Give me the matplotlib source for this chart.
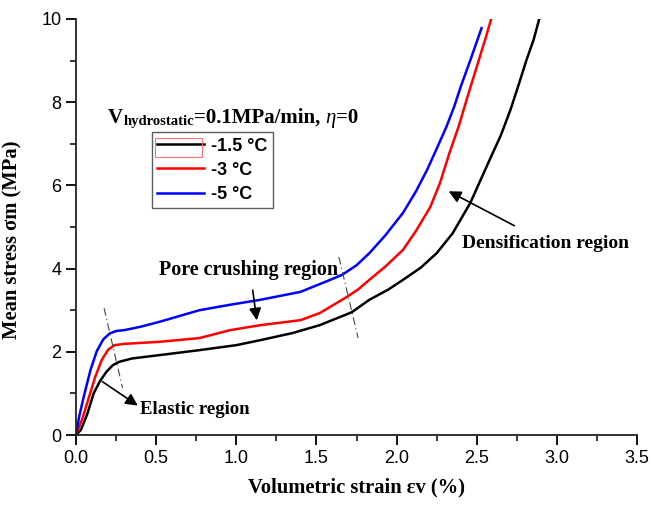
#!/usr/bin/env python3
"""Mean stress vs volumetric strain under hydrostatic loading at three temperatures."""

import matplotlib
matplotlib.use("Agg")
import matplotlib.pyplot as plt
from matplotlib.patches import Rectangle
from matplotlib.ticker import FormatStrFormatter, MultipleLocator

SERIF = "Liberation Serif"
SANS = "Liberation Sans"

LABELS = ["-1.5 °C", "-3 °C", "-5 °C"]
COLORS = ["black", "#ff0000", "#0000ff"]

strain_15 = [0, 0.03, 0.07, 0.11, 0.15, 0.19, 0.23, 0.27, 0.35, 0.52, 0.77, 1.0,
             1.15, 1.35, 1.52, 1.72, 1.83, 1.95, 2.04, 2.15, 2.25, 2.35, 2.46,
             2.58, 2.65, 2.71, 2.76, 2.81, 2.855, 2.89]
stress_15 = [0, 0.12, 0.5, 1.0, 1.3, 1.52, 1.68, 1.76, 1.84, 1.92, 2.04, 2.16,
             2.28, 2.45, 2.64, 2.95, 3.25, 3.5, 3.73, 4.02, 4.37, 4.85, 5.58,
             6.61, 7.2, 7.81, 8.4, 9.01, 9.5, 10.0]

strain_3 = [0, 0.04, 0.08, 0.12, 0.16, 0.20, 0.24, 0.30, 0.52, 0.77, 0.8, 0.96,
            1.15, 1.40, 1.52, 1.69, 1.76, 1.83, 1.93, 2.04, 2.12, 2.21, 2.27,
            2.33, 2.39, 2.44, 2.48, 2.52, 2.56, 2.59]
stress_3 = [0, 0.4, 0.9, 1.4, 1.8, 2.05, 2.16, 2.19, 2.24, 2.33, 2.36, 2.52,
            2.64, 2.76, 2.93, 3.32, 3.5, 3.73, 4.05, 4.45, 4.9, 5.48, 6.05,
            6.78, 7.45, 8.1, 8.6, 9.1, 9.6, 10.0]

strain_5 = [0, 0.02, 0.05, 0.09, 0.13, 0.17, 0.21, 0.25, 0.30, 0.40, 0.52, 0.77,
            0.96, 1.15, 1.40, 1.58, 1.66, 1.75, 1.83, 1.93, 2.04, 2.12, 2.19,
            2.25, 2.31, 2.36, 2.40, 2.46, 2.53]
stress_5 = [0, 0.45, 0.95, 1.56, 2.02, 2.3, 2.44, 2.5, 2.52, 2.6, 2.72, 3.0,
            3.13, 3.25, 3.44, 3.72, 3.85, 4.08, 4.37, 4.8, 5.34, 5.85, 6.37,
            6.88, 7.4, 7.9, 8.37, 9.01, 9.78]

SERIES = [(strain_15, stress_15), (strain_3, stress_3), (strain_5, stress_5)]

# region boundaries (dash-dot lines)
elastic_bound = ([0.175, 0.29], [3.05, 1.13])
pore_bound = ([1.64, 1.76], [4.28, 2.33])


def main() -> None:
    fig = plt.figure(figsize=(6.52, 5.05), dpi=100)
    ax = fig.add_axes([0.1166, 0.1386, 0.8604, 0.8238])

    for (x, y), label, color in zip(SERIES, LABELS, COLORS):
        ax.plot(x, y, color=color, linewidth=1.8, label=label)

    for xs, ys in [elastic_bound, pore_bound]:
        ax.plot(xs, ys, color="#444444", linewidth=0.8, linestyle=(0, (7, 3, 1, 3)))

    ax.set_xlim(0, 3.5)
    ax.set_ylim(0, 10)
    ax.xaxis.set_major_locator(MultipleLocator(0.5))
    ax.xaxis.set_minor_locator(MultipleLocator(0.25))
    ax.yaxis.set_major_locator(MultipleLocator(2))
    ax.yaxis.set_minor_locator(MultipleLocator(1))
    ax.xaxis.set_major_formatter(FormatStrFormatter("%.1f"))
    ax.yaxis.set_major_formatter(FormatStrFormatter("%d"))
    ax.tick_params(which="major", length=7, width=1.3, labelsize=13, direction="out")
    ax.tick_params(which="minor", length=4, width=1.1, direction="out")
    for lab in ax.get_xticklabels() + ax.get_yticklabels():
        lab.set_family(SANS)
    for side in ["top", "right"]:
        ax.spines[side].set_visible(False)
    for side in ["left", "bottom"]:
        ax.spines[side].set_linewidth(1.3)
        ax.spines[side].set_color("#222222")

    ax.set_xlabel("Volumetric strain εv (%)", family=SERIF, fontweight="bold",
                  fontsize=14.8, labelpad=8)
    ax.set_ylabel("Mean stress σm (MPa)", family=SERIF, fontweight="bold",
                  fontsize=14.8)
    ax.yaxis.set_label_coords(-0.095, 0.47)

    # legend
    leg = ax.legend(loc="upper left", bbox_to_anchor=(0.135, 0.728), frameon=True,
                    fancybox=False, edgecolor="#333333", handlelength=2.6,
                    handletextpad=0.4, labelspacing=0.4, borderpad=0.3,
                    borderaxespad=0, prop={"family": SANS, "weight": "bold", "size": 13})
    leg.get_frame().set_linewidth(1.0)
    ax.add_patch(Rectangle((0.141, 0.668), 0.084, 0.046, transform=ax.transAxes,
                           fill=False, edgecolor="#ff7070", linewidth=0.8, zorder=10))

    # legend title: V_hydrostatic=0.1MPa/min, eta=0
    t1 = ax.text(0.2, 7.5, "V", family=SERIF, fontweight="bold", fontsize=15,
                 va="baseline")
    t2 = ax.annotate("hydrostatic", xy=(1, 0), xycoords=t1, va="bottom",
                     family=SERIF, fontweight="bold", fontsize=10.5)
    t3 = ax.annotate("=0.1MPa/min, ", xy=(1, 0), xycoords=t2, va="bottom",
                     family=SERIF, fontweight="bold", fontsize=15)
    t4 = ax.annotate("η", xy=(1, 0), xycoords=t3, va="bottom",
                     family=SERIF, style="italic", fontsize=15)
    ax.annotate("=0", xy=(1, 0), xycoords=t4, va="bottom",
                family=SERIF, fontweight="bold", fontsize=15)

    arrow = dict(arrowstyle="-|>", color="black", linewidth=1.2, mutation_scale=18)
    ax.annotate("", xy=(0.40, 0.67), xytext=(0.15, 1.32), arrowprops=arrow)
    ax.text(0.40, 0.62, "Elastic region", va="center", ha="left",
            family=SERIF, fontweight="bold", fontsize=13.5)
    ax.annotate("", xy=(1.13, 2.69), xytext=(1.10, 3.55), arrowprops=arrow)
    ax.text(0.52, 3.96, "Pore crushing region", va="center", ha="left",
            family=SERIF, fontweight="bold", fontsize=14.5)
    ax.annotate("", xy=(2.31, 5.89), xytext=(2.75, 5.0), arrowprops=arrow)
    ax.text(2.41, 4.6, "Densification region", va="center", ha="left",
            family=SERIF, fontweight="bold", fontsize=14)

    fig.savefig("out.png", dpi=100)
    plt.close(fig)


if __name__ == "__main__":
    main()
